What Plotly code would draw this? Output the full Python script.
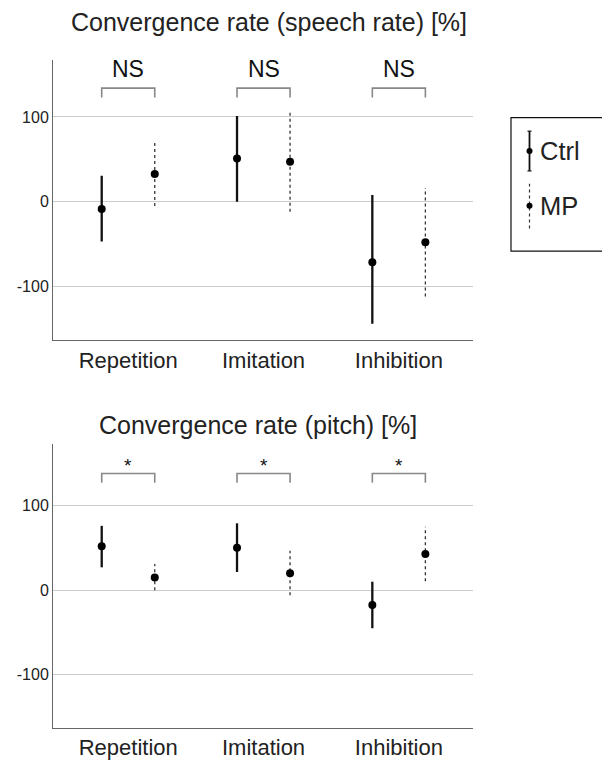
import plotly.graph_objects as go

# ---- data ----
categories = ["Repetition", "Imitation", "Inhibition"]
groups = ["Ctrl", "MP"]

# speech rate
speech_ctrl_mean = [-8.6, 51, -71.5]
speech_ctrl_low = [-47, 0, -144]
speech_ctrl_high = [30.5, 101, 8]
speech_mp_mean = [32.8, 47, -48]
speech_mp_low = [-5, -12, -112]
speech_mp_high = [70, 106, 16]
speech_sig = ["NS", "NS", "NS"]

# pitch
pitch_ctrl_mean = [52, 50, -17.6]
pitch_ctrl_low = [27, 21.5, -45]
pitch_ctrl_high = [76, 79, 10]
pitch_mp_mean = [15, 20, 42.7]
pitch_mp_low = [0, -6, 10.6]
pitch_mp_high = [31, 46.6, 75]
pitch_sig = ["*", "*", "*"]

tick_vals_y = [-100, 0, 100]
tick_text_y = ["-100", "0", "100"]

titles = ["Convergence rate (speech rate) [%]", "Convergence rate (pitch) [%]"]

# ---- styling / layout constants ----
PAGE_OFF = 8          # browser body margin
W, H = 602, 752
OFF = 0.196
FONT = "Liberation Sans, Arial, sans-serif"
TXT = "#222222"

fig = go.Figure()


def px_x(p):
    return (p - PAGE_OFF) / W


def px_y(p):
    return 1 - (p - PAGE_OFF) / H


def add_panel(idx, c_mean, c_lo, c_hi, m_mean, m_lo, m_hi, sig, br_top, br_leg, sig_y, sig_size):
    xa = "x" if idx == 1 else "x2"
    ya = "y" if idx == 1 else "y2"
    xs_c = [i - OFF for i in range(len(categories))]
    xs_m = [i + OFF for i in range(len(categories))]
    lx, ly = [], []
    for x, lo, hi in zip(xs_c, c_lo, c_hi):
        lx += [x, x, None]
        ly += [lo, hi, None]
    fig.add_trace(go.Scatter(x=lx, y=ly, mode="lines", xaxis=xa, yaxis=ya,
                             line=dict(color="#111111", width=2.3), showlegend=False, hoverinfo="skip"))
    lx, ly = [], []
    for x, lo, hi in zip(xs_m, m_lo, m_hi):
        lx += [x, x, None]
        ly += [lo, hi, None]
    fig.add_trace(go.Scatter(x=lx, y=ly, mode="lines", xaxis=xa, yaxis=ya,
                             line=dict(color="#333333", width=1.3, dash="dot"), showlegend=False, hoverinfo="skip"))
    fig.add_trace(go.Scatter(x=xs_c, y=c_mean, mode="markers", xaxis=xa, yaxis=ya, name="Ctrl",
                             marker=dict(color="black", size=8), showlegend=False))
    fig.add_trace(go.Scatter(x=xs_m, y=m_mean, mode="markers", xaxis=xa, yaxis=ya, name="MP",
                             marker=dict(color="black", size=8), showlegend=False))
    bx, by = [], []
    for xc, xm in zip(xs_c, xs_m):
        bx += [xc, xc, xm, xm, None]
        by += [br_leg, br_top, br_top, br_leg, None]
    fig.add_trace(go.Scatter(x=bx, y=by, mode="lines", xaxis=xa, yaxis=ya,
                             line=dict(color="#888888", width=1.6), showlegend=False, hoverinfo="skip"))
    for i, s in enumerate(sig):
        fig.add_annotation(x=i, y=sig_y, xref=xa, yref=ya, text=s, showarrow=False,
                           xanchor="center", yanchor="middle",
                           font=dict(size=sig_size, color="#111111", family=FONT))


add_panel(1, speech_ctrl_mean, speech_ctrl_low, speech_ctrl_high,
          speech_mp_mean, speech_mp_low, speech_mp_high, speech_sig, 134, 123, 156, 23)
add_panel(2, pitch_ctrl_mean, pitch_ctrl_low, pitch_ctrl_high,
          pitch_mp_mean, pitch_mp_low, pitch_mp_high, pitch_sig, 137.8, 127, 147, 19)

xdom = [px_x(53), px_x(473)]
xrange_ = [-0.556, 2.548]

common_x = dict(range=xrange_, domain=xdom, tickvals=[0, 1, 2], ticktext=categories,
                showgrid=False, zeroline=False, showline=True, linecolor="#666666", linewidth=1,
                ticks="", tickfont=dict(size=22, color=TXT, family=FONT), fixedrange=True)
common_y = dict(tickvals=tick_vals_y, ticktext=tick_text_y, showgrid=True, gridcolor="#cccccc",
                gridwidth=1, zeroline=False, showline=True, linecolor="#666666", linewidth=1,
                ticks="", tickfont=dict(size=16, color=TXT, family=FONT), fixedrange=True)

fig.update_layout(
    width=W, height=H,
    margin=dict(l=0, r=0, t=0, b=0),
    paper_bgcolor="white", plot_bgcolor="white",
    showlegend=False,
    xaxis=dict(**common_x, anchor="y"),
    yaxis=dict(**common_y, anchor="x", domain=[px_y(342.7), px_y(60)], range=[-163.8, 167.6]),
    xaxis2=dict(**common_x, anchor="y2"),
    yaxis2=dict(**common_y, anchor="x2", domain=[px_y(732.7), px_y(446.7)], range=[-162.8, 173]),
)

# titles
fig.add_annotation(x=px_x(269), y=px_y(22), xref="paper", yref="paper", text=titles[0],
                   xanchor="center", yanchor="middle",
                   showarrow=False, font=dict(size=25, color=TXT, family=FONT))
fig.add_annotation(x=px_x(258), y=px_y(428), xref="paper", yref="paper", text=titles[1],
                   xanchor="center", yanchor="middle",
                   showarrow=False, font=dict(size=25, color=TXT, family=FONT))

# custom legend
fig.add_shape(type="rect", xref="paper", yref="paper", x0=px_x(511), x1=px_x(608),
              y0=px_y(252.7), y1=px_y(118.3), line=dict(color="#111111", width=1.2), fillcolor="white")
lx = px_x(529.5)
fig.add_shape(type="line", xref="paper", yref="paper", x0=lx, x1=lx, y0=px_y(172), y1=px_y(132),
              line=dict(color="#111111", width=1.8))
for yy in (132, 172):
    fig.add_shape(type="line", xref="paper", yref="paper", x0=px_x(527.5), x1=px_x(531.5),
                  y0=px_y(yy), y1=px_y(yy), line=dict(color="#111111", width=1.2))
fig.add_shape(type="line", xref="paper", yref="paper", x0=lx, x1=lx, y0=px_y(230), y1=px_y(185),
              line=dict(color="#333333", width=1.2, dash="dot"))
for yy in (152, 207):
    fig.add_shape(type="circle", xref="paper", yref="paper", xsizemode="pixel", ysizemode="pixel",
                  xanchor=lx, yanchor=px_y(yy), x0=-3, x1=3, y0=-3, y1=3,
                  fillcolor="black", line=dict(color="black", width=0))
for name, yy in zip(groups, (152, 207)):
    fig.add_annotation(x=px_x(538), y=px_y(yy), xref="paper", yref="paper", text=name,
                       xanchor="left", yanchor="middle",
                       showarrow=False, font=dict(size=25.5, color=TXT, family=FONT))

fig.write_html("out.html")
